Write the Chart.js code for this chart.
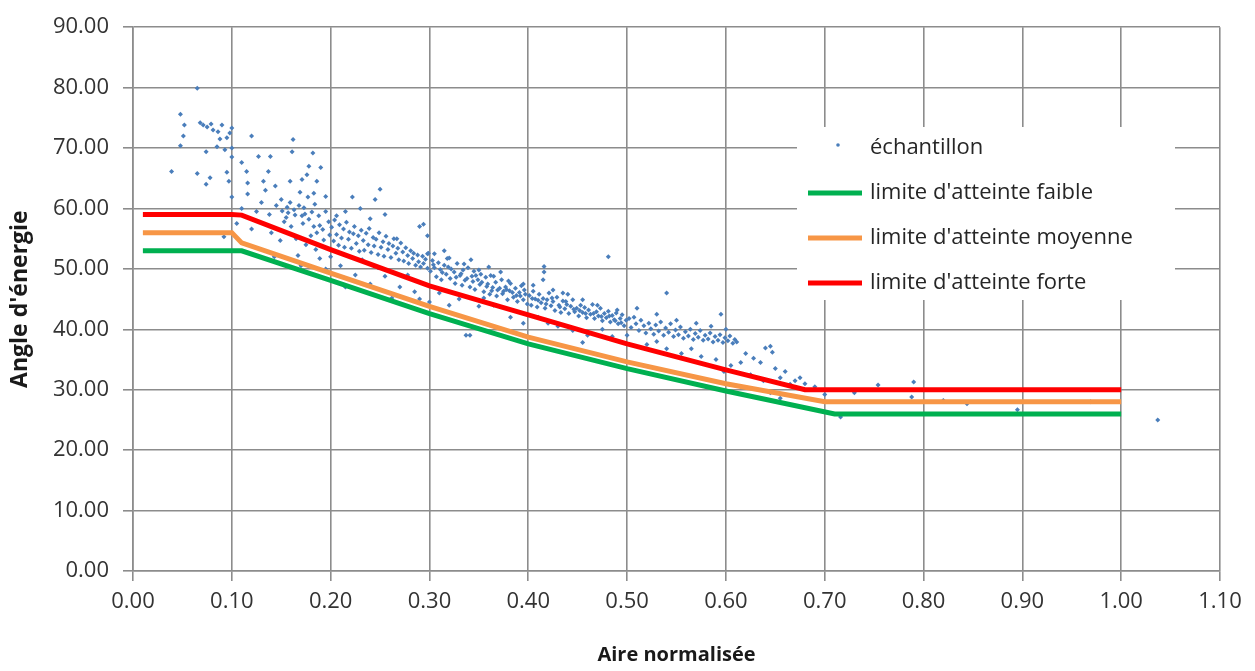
<!DOCTYPE html>
<html><head><meta charset="utf-8">
<script src="https://cdn.jsdelivr.net/npm/chart.js@4/dist/chart.umd.min.js"></script>
<style>html,body{margin:0;padding:0;background:#fff;}#wrap{width:1255px;height:671px;}</style>
</head><body><div id="wrap"><canvas id="c" width="1255" height="671"></canvas></div>
<script>
const xTickLabels = ['0.00','0.10','0.20','0.30','0.40','0.50','0.60','0.70','0.80','0.90','1.00','1.10'];
const yTickLabels = ['0.00','10.00','20.00','30.00','40.00','50.00','60.00','70.00','80.00','90.00'];
const xTitle = 'Aire normalisée';
const yTitle = "Angle d'énergie";
const seriesNames = ['échantillon', "limite d'atteinte faible", "limite d'atteinte moyenne", "limite d'atteinte forte"];

// limit curves
const faibleX = [0.01, 0.11, 0.20, 0.30, 0.40, 0.50, 0.60, 0.71, 1.00];
const faibleY = [53, 53, 48.1, 42.6, 37.6, 33.5, 29.8, 26, 26];
const moyenneX = [0.01, 0.10, 0.11, 0.20, 0.30, 0.40, 0.50, 0.60, 0.70, 1.00];
const moyenneY = [56, 56, 54.3, 49.3, 43.8, 38.7, 34.6, 31.0, 28, 28];
const forteX = [0.01, 0.10, 0.11, 0.20, 0.30, 0.40, 0.50, 0.60, 0.68, 1.00];
const forteY = [59, 59, 58.9, 53.2, 47.2, 42.4, 37.6, 33.3, 30, 30];

// sample points [aire, angle]
const samplePoints = [
[0.039,66.1],[0.048,75.6],[0.052,73.8],[0.051,72.0],[0.048,70.4],[0.065,65.8],[0.074,64.0],[0.078,65.1],[0.071,73.8],[0.075,73.5],
[0.081,73.0],[0.086,72.7],[0.090,73.8],[0.095,71.7],[0.100,73.3],[0.085,70.2],[0.093,69.7],[0.100,70.0],[0.074,69.4],[0.095,66.0],
[0.100,61.9],[0.092,55.3],[0.068,74.2],[0.079,74.0],[0.088,71.5],[0.098,72.5],[0.065,79.9],[0.100,68.5],[0.097,64.5],
[0.120,72.0],[0.110,67.6],[0.115,66.1],[0.127,68.6],[0.139,68.6],[0.137,66.1],[0.116,64.2],[0.132,64.5],[0.134,63.0],[0.144,63.7],
[0.116,62.4],[0.120,56.6],[0.156,60.2],[0.159,61.0],[0.151,59.6],[0.162,71.4],[0.161,69.4],[0.182,69.2],[0.176,65.6],[0.171,64.8],
[0.159,64.5],[0.169,62.7],[0.177,61.9],[0.184,60.7],[0.174,59.1],[0.171,58.8],[0.186,64.5],[0.149,54.7],[0.167,52.2],[0.189,51.7],
[0.155,58.5],[0.163,59.8],[0.168,60.5],[0.172,57.5],[0.178,58.2],[0.183,57.0],[0.188,58.8],[0.192,56.5],[0.195,59.5],[0.198,57.8],
[0.180,55.5],[0.186,56.0],[0.160,57.0],[0.165,55.0],[0.175,54.0],[0.185,53.2],[0.193,54.8],[0.199,55.6],[0.150,61.5],[0.145,60.5],
[0.153,57.8],[0.138,59.0],[0.130,61.0],[0.125,59.5],[0.110,60.0],[0.105,57.5],[0.140,56.0],[0.170,50.5],[0.195,50.0],[0.200,52.0],
[0.183,62.5],[0.190,66.8],[0.178,67.0],[0.195,62.0],[0.143,52.0],[0.164,58.9],[0.173,60.1],[0.181,59.4],[0.189,57.2],[0.157,59.3],
[0.201,56.9],[0.203,54.6],[0.204,58.1],[0.206,55.7],[0.208,53.9],[0.209,57.3],[0.211,55.1],[0.213,56.6],[0.214,53.6],[0.216,57.7],
[0.218,54.9],[0.219,56.1],[0.221,53.4],[0.223,55.8],[0.224,57.0],[0.226,54.2],[0.228,55.5],[0.229,52.9],[0.231,56.4],[0.233,54.7],
[0.234,53.1],[0.236,55.9],[0.238,54.0],[0.239,56.7],[0.241,52.7],[0.243,55.2],[0.244,53.8],[0.246,54.9],[0.248,52.4],[0.249,56.0],
[0.251,53.6],[0.253,54.5],[0.254,52.1],[0.256,55.4],[0.258,53.2],[0.259,54.2],[0.261,51.9],[0.263,53.8],[0.264,55.0],[0.266,52.6],
[0.268,53.4],[0.269,51.5],[0.271,54.3],[0.273,52.8],[0.274,51.3],[0.276,53.5],[0.278,52.2],[0.279,50.9],[0.281,53.0],[0.283,51.7],
[0.284,52.6],[0.286,50.6],[0.288,52.3],[0.289,51.2],[0.291,50.3],[0.293,52.1],[0.294,50.9],[0.296,51.6],[0.298,50.1],[0.299,52.6],
[0.250,63.2],[0.245,61.5],[0.222,61.9],[0.206,58.8],[0.290,57.0],[0.294,57.4],[0.267,55.0],[0.298,52.5],[0.215,59.5],[0.230,60.0],
[0.255,59.0],[0.240,58.3],
[0.210,50.5],[0.225,49.0],[0.240,47.5],[0.255,48.8],[0.270,47.0],[0.285,46.2],[0.215,47.0],[0.262,45.2],[0.232,51.5],[0.278,49.0],
[0.248,50.2],[0.290,45.0],[0.300,44.5],
[0.301,49.6],[0.303,51.4],[0.305,50.2],[0.307,48.7],[0.309,51.0],[0.311,49.9],[0.312,48.2],[0.315,50.6],[0.317,49.1],[0.318,51.7],
[0.321,48.4],[0.322,50.0],[0.325,49.5],[0.326,47.6],[0.328,50.9],[0.331,48.9],[0.333,47.3],[0.334,49.8],[0.336,48.1],[0.339,50.2],
[0.341,47.0],[0.343,48.8],[0.345,49.6],[0.346,46.6],[0.349,48.2],[0.351,47.4],[0.352,49.1],[0.355,46.2],[0.357,48.6],[0.358,47.1],
[0.361,45.8],[0.362,48.9],[0.364,46.9],[0.367,47.8],[0.368,45.5],[0.371,46.8],[0.373,48.2],[0.374,45.9],[0.377,47.0],[0.379,44.9],
[0.381,46.4],[0.382,47.6],[0.385,45.3],[0.387,46.8],[0.389,44.6],[0.391,46.1],[0.393,47.2],[0.395,44.9],[0.397,45.8],[0.399,44.2],
[0.304,50.7],[0.313,49.4],[0.319,50.3],[0.327,48.6],[0.332,49.2],[0.338,48.4],[0.344,47.9],[0.347,48.9],[0.353,47.8],[0.359,47.5],
[0.363,46.4],[0.369,46.5],[0.375,46.3],[0.378,46.6],[0.384,46.1],[0.388,45.6],[0.392,45.5],[0.396,46.5],
[0.305,52.5],[0.320,51.8],[0.335,50.8],[0.350,49.8],[0.365,48.8],[0.380,48.0],[0.395,47.5],[0.342,51.5],[0.372,49.5],[0.315,53.0],
[0.298,55.5],[0.360,50.3],
[0.310,46.0],[0.330,45.0],[0.337,39.0],[0.341,39.0],[0.350,43.8],[0.365,44.0],[0.382,42.0],[0.395,41.0],[0.320,44.0],[0.355,45.2],
[0.401,45.6],[0.403,44.0],[0.405,46.3],[0.407,45.0],[0.409,43.7],[0.411,45.8],[0.413,44.4],[0.415,45.1],[0.417,43.5],[0.419,44.9],
[0.421,46.0],[0.423,43.9],[0.425,44.6],[0.427,43.1],[0.429,45.3],[0.431,44.0],[0.433,42.8],[0.435,44.7],[0.437,43.4],[0.439,44.1],
[0.441,42.6],[0.443,43.8],[0.445,44.9],[0.447,42.9],[0.449,43.5],[0.451,42.2],[0.453,44.0],[0.455,42.8],[0.457,43.6],[0.459,41.9],
[0.461,43.2],[0.463,42.5],[0.465,44.1],[0.467,41.8],[0.469,42.9],[0.471,42.2],[0.473,43.5],[0.475,41.4],[0.477,42.6],[0.479,41.9],
[0.481,43.0],[0.483,41.2],[0.485,42.3],[0.487,41.6],[0.489,42.7],[0.491,40.9],[0.493,41.8],[0.495,42.4],[0.497,40.6],[0.499,41.5],
[0.404,45.1],[0.410,44.8],[0.418,44.2],[0.424,45.2],[0.432,43.7],[0.438,44.6],[0.446,43.3],[0.452,43.1],[0.458,42.6],[0.466,42.6],
[0.474,42.1],[0.482,42.2],[0.488,41.4],[0.494,41.1],
[0.405,47.3],[0.415,48.2],[0.416,49.5],[0.416,50.4],[0.425,46.5],[0.440,45.8],[0.455,44.9],[0.470,44.0],[0.481,52.0],[0.490,43.2],
[0.435,46.0],
[0.410,42.0],[0.430,40.5],[0.445,39.8],[0.460,39.0],[0.475,40.0],[0.485,38.8],[0.420,41.0],[0.455,37.8],[0.500,39.0],
[0.502,41.8],[0.504,40.3],[0.507,42.0],[0.509,40.9],[0.512,39.8],[0.514,41.5],[0.517,40.6],[0.519,39.4],[0.522,41.0],[0.524,40.1],
[0.527,39.2],[0.529,40.7],[0.532,39.7],[0.534,41.2],[0.537,39.0],[0.539,40.2],[0.542,39.5],[0.544,40.9],[0.547,38.8],[0.549,39.9],
[0.552,39.1],[0.554,40.4],[0.557,38.5],[0.559,39.6],[0.562,38.9],[0.564,40.0],[0.567,38.3],[0.569,39.3],[0.572,38.7],[0.574,39.8],
[0.577,38.2],[0.579,39.0],[0.582,38.4],[0.584,39.4],[0.587,37.9],[0.589,38.8],[0.592,38.2],[0.594,39.1],[0.597,37.8],[0.599,38.6],
[0.602,38.1],[0.604,38.9],[0.607,37.7],[0.609,38.3],[0.611,37.9],
[0.510,43.5],[0.530,42.5],[0.550,41.5],[0.570,41.0],[0.585,40.5],[0.600,40.0],[0.540,46.0],[0.595,42.5],
[0.520,37.5],[0.540,36.8],[0.555,36.0],[0.575,35.5],[0.590,35.0],[0.605,34.0],[0.565,36.8],[0.530,38.0],[0.598,33.0],[0.615,34.5],
[0.620,36.0],[0.628,35.2],[0.635,34.5],[0.640,36.9],[0.645,37.2],[0.647,36.2],[0.650,33.5],[0.655,32.0],[0.660,33.0],[0.665,30.9],
[0.670,31.5],[0.675,32.0],[0.680,31.0],[0.625,32.5],[0.638,31.5],[0.645,29.5],[0.655,28.6],[0.690,30.5],[0.700,29.2],
[0.716,25.5],[0.754,30.8],[0.790,31.3],[0.788,28.8],[0.844,27.7],[0.895,26.7],[0.969,28.0],[1.037,25.0],[0.730,29.5],[0.820,28.2]
];

const colors = { sample: '#4a7ebb', faible: '#00b050', moyenne: '#f79646', forte: '#ff0000' };
const FONT = "'Open Sans', 'DejaVu Sans', sans-serif";

function pts(xs, ys) { return xs.map((x, i) => ({ x: x, y: ys[i] })); }

const legendPlugin = {
  id: 'insideLegend',
  afterDraw(chart) {
    const ctx = chart.ctx;
    ctx.save();
    ctx.fillStyle = '#ffffff';
    ctx.fillRect(797, 127, 378, 173);
    ctx.font = "22px " + FONT;
    ctx.textBaseline = 'middle';
    ctx.textAlign = 'left';
    chart.data.datasets.forEach((ds, i) => {
      const y = 148 + i * 45;
      if (i === 0) {
        ctx.fillStyle = ds.backgroundColor;
        ctx.beginPath(); ctx.arc(838, y - 3, 1.8, 0, Math.PI * 2); ctx.fill();
      } else {
        ctx.strokeStyle = ds.borderColor; ctx.lineWidth = 5; ctx.lineCap = 'butt';
        ctx.beginPath(); ctx.moveTo(808, y); ctx.lineTo(862, y); ctx.stroke();
      }
      ctx.fillStyle = '#262626';
      ctx.fillText(ds.label, 870, y);
    });
    ctx.restore();
  }
};

new Chart(document.getElementById('c'), {
  type: 'scatter',
  data: {
    datasets: [
      { label: seriesNames[0], data: samplePoints.map(p => ({ x: p[0], y: p[1] })), backgroundColor: colors.sample, borderColor: colors.sample, pointRadius: 2.5, pointStyle: 'rectRot', borderWidth: 0, order: 4 },
      { label: seriesNames[1], data: pts(faibleX, faibleY), showLine: true, borderColor: colors.faible, backgroundColor: colors.faible, borderWidth: 5, pointRadius: 0, order: 3 },
      { label: seriesNames[2], data: pts(moyenneX, moyenneY), showLine: true, borderColor: colors.moyenne, backgroundColor: colors.moyenne, borderWidth: 5, pointRadius: 0, order: 2 },
      { label: seriesNames[3], data: pts(forteX, forteY), showLine: true, borderColor: colors.forte, backgroundColor: colors.forte, borderWidth: 5, pointRadius: 0, order: 1 }
    ]
  },
  options: {
    responsive: false,
    animation: false,
    events: [],
    layout: { padding: { top: 21, right: 35, left: 0, bottom: 0 } },
    plugins: { legend: { display: false }, tooltip: { enabled: false } },
    scales: {
      x: {
        type: 'linear', min: 0, max: 1.1,
        afterFit(s) { s.height = 100; },
        afterBuildTicks(s) { s.ticks = xTickLabels.map(t => ({ value: parseFloat(t) })); },
        ticks: { callback: (v, i) => xTickLabels[i], color: '#333333', font: { family: FONT, size: 22 }, padding: 8, maxRotation: 0, autoSkip: false },
        grid: { color: '#8c8c8c', lineWidth: 1.6, tickLength: 10, drawTicks: true },
        border: { color: '#8c8c8c', width: 1.6 },
        title: { display: true, text: xTitle, color: '#1a1a1a', font: { family: FONT, size: 20, weight: 'bold' }, padding: { top: 14 } }
      },
      y: {
        type: 'linear', min: 0, max: 90,
        afterFit(s) { s.width = 133; },
        afterBuildTicks(s) { s.ticks = yTickLabels.map(t => ({ value: parseFloat(t) })); },
        ticks: { callback: (v, i) => yTickLabels[i], color: '#333333', font: { family: FONT, size: 22 }, padding: 14, autoSkip: false },
        grid: { color: '#8c8c8c', lineWidth: 1.6, tickLength: 10, drawTicks: true },
        border: { color: '#8c8c8c', width: 1.6 },
        title: { display: true, text: yTitle, color: '#1a1a1a', font: { family: FONT, size: 23, weight: 'bold' }, padding: { top: 7, bottom: 0 } }
      }
    }
  },
  plugins: [legendPlugin]
});
</script></body></html>
